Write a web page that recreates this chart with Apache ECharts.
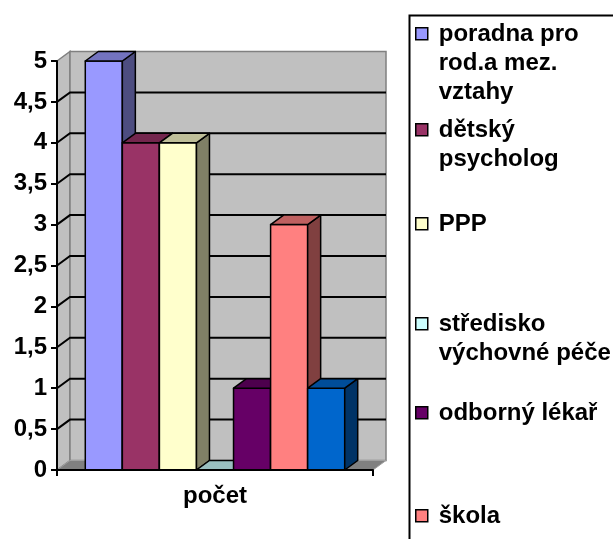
<!DOCTYPE html>
<html><head><meta charset="utf-8">
<script src="https://cdn.jsdelivr.net/npm/echarts@6/dist/echarts.min.js"></script>
<style>html,body{margin:0;padding:0;background:#fff}#c{width:613px;height:539px}</style>
</head><body><div id="c"></div>
<script>
// ---- data ----
const categories = ['počet'];
const seriesNames = ['poradna pro rod.a mez. vztahy', 'dětský psycholog', 'PPP', 'středisko výchovné péče', 'odborný lékař', 'škola', 'jiné'];
const values = [5, 4, 4, 0, 1, 3, 1];
const legendLabels = ['poradna pro\nrod.a mez.\nvztahy', 'dětský\npsycholog', 'PPP', 'středisko\nvýchovné péče', 'odborný lékař', 'škola'];
const yTickValues = [0, 0.5, 1, 1.5, 2, 2.5, 3, 3.5, 4, 4.5, 5];
const yTickLabels = ['0', '0,5', '1', '1,5', '2', '2,5', '3', '3,5', '4', '4,5', '5'];

// ---- styles / layout ----
const colors = ['#9999ff', '#993366', '#ffffcc', '#ccffff', '#660066', '#ff8080', '#0066cc'];
const legendIconTops = [27, 123, 217, 317, 406, 509];
const FONT = '"Liberation Sans", Arial, sans-serif';
const DX = 13, DY = 9.5;
const LH = 29;

function shade(hex, f) {
  const n = parseInt(hex.slice(1), 16);
  const r = Math.round(((n >> 16) & 255) * f), g = Math.round(((n >> 8) & 255) * f), b = Math.round((n & 255) * f);
  return 'rgb(' + r + ',' + g + ',' + b + ')';
}

const chart = echarts.init(document.getElementById('c'), null, { renderer: 'canvas' });

const wallSeries = {
  type: 'custom', name: '_wall', silent: true, z: 1, data: [[0, 0]], encode: { x: 0, y: 1 },
  renderItem: function (params, api) {
    const cs = params.coordSys;
    const x0 = cs.x, y0 = cs.y, w = cs.width, h = cs.height, yb = y0 + h;
    const ch = [];
    ch.push({ type: 'polygon', shape: { points: [[x0, y0], [x0 + DX, y0 - DY], [x0 + DX, yb - DY], [x0, yb]] }, style: { fill: '#c0c0c0', stroke: '#808080', lineWidth: 1.5 } });
    ch.push({ type: 'rect', shape: { x: x0 + DX, y: y0 - DY, width: w, height: h }, style: { fill: '#c0c0c0', stroke: '#808080', lineWidth: 1.5 } });
    ch.push({ type: 'polygon', shape: { points: [[x0, yb], [x0 + DX, yb - DY], [x0 + w + DX, yb - DY], [x0 + w, yb]] }, style: { fill: '#808080', stroke: '#a0a0a0', lineWidth: 1 } });
    yTickValues.filter(v => v > 0 && v < 5).forEach(v => {
      const y = api.coord([0, v])[1];
      ch.push({ type: 'polyline', shape: { points: [[x0, y], [x0 + DX, y - DY], [x0 + w + DX, y - DY]] }, style: { stroke: '#000', lineWidth: 2, fill: null } });
    });
    return { type: 'group', children: ch };
  }
};

const barSeries = seriesNames.map((name, i) => ({
  type: 'custom', name: name, z: 3, data: [[0, values[i]]], encode: { x: 0, y: 1 },
  itemStyle: { color: colors[i] },
  renderItem: function (params, api) {
    const p = api.coord([api.value(0), api.value(1)]);
    const base = api.coord([api.value(0), 0]);
    const band = api.size([1, 0])[0];
    const groupW = band * 0.821;
    const bw = groupW / values.length;
    const xl = p[0] - groupW / 2 + i * bw, xr = xl + bw, yt = p[1], yb = base[1];
    const c = colors[i];
    const st = { stroke: '#000', lineWidth: 1.5, lineJoin: 'round' };
    return { type: 'group', children: [
      { type: 'rect', shape: { x: xl, y: yt, width: bw, height: yb - yt }, style: Object.assign({}, st, { fill: c }) },
      { type: 'polygon', shape: { points: [[xr, yt], [xr + DX, yt - DY], [xr + DX, yb - DY], [xr, yb]] }, style: Object.assign({}, st, { fill: shade(c, 0.5) }) },
      { type: 'polygon', shape: { points: [[xl, yt], [xl + DX, yt - DY], [xr + DX, yt - DY], [xr, yt]] }, style: Object.assign({}, st, { fill: shade(c, 0.75) }) }
    ] };
  }
}));

const labelStyle = { color: '#000', fontSize: 24, fontWeight: 'bold', fontFamily: FONT };

// legend icon: 12x12 square beside the first text line, inside a box as tall as the whole label
function legendIcon(n) {
  const hgt = n * LH;
  return 'path://M0,0M0,' + hgt + 'M0,8L12,8L12,20L0,20Z';
}

const option = {
  animation: false,
  backgroundColor: '#fff',
  grid: { left: 57, top: 61, width: 316, height: 409, outerBoundsMode: 'none', containLabel: false },
  xAxis: {
    type: 'category', data: categories, z: 5,
    axisLine: { show: true, lineStyle: { color: '#000', width: 2 } },
    axisTick: { show: true, length: 6, lineStyle: { color: '#000', width: 2 } },
    axisLabel: Object.assign({ margin: 14 }, labelStyle),
    splitLine: { show: false }
  },
  yAxis: {
    type: 'value', min: 0, max: 5, interval: 0.5, z: 5,
    axisLine: { show: true, lineStyle: { color: '#000', width: 2 } },
    axisTick: { show: true, length: 6, lineStyle: { color: '#000', width: 2 } },
    axisLabel: Object.assign({ margin: 10, formatter: v => yTickLabels[yTickValues.indexOf(v)] }, labelStyle),
    splitLine: { show: false }
  },
  legend: legendLabels.map((lbl, i) => {
    const n = lbl.split('\n').length;
    return {
      data: [seriesNames[i]], left: 415, top: legendIconTops[i] - 8, orient: 'vertical', padding: 0,
      itemWidth: 12, itemHeight: n * LH, icon: legendIcon(n), selectedMode: false,
      itemStyle: { borderColor: '#000', borderWidth: 1.5 },
      formatter: () => lbl,
      textStyle: Object.assign({ lineHeight: LH, padding: [0, 0, 0, 6] }, labelStyle)
    };
  }),
  graphic: [{ type: 'rect', left: 407, top: 13, shape: { width: 400, height: 600 }, style: { fill: 'none', stroke: '#000', lineWidth: 2 }, z: 10 }],
  series: [wallSeries].concat(barSeries)
};
chart.setOption(option);
</script></body></html>
